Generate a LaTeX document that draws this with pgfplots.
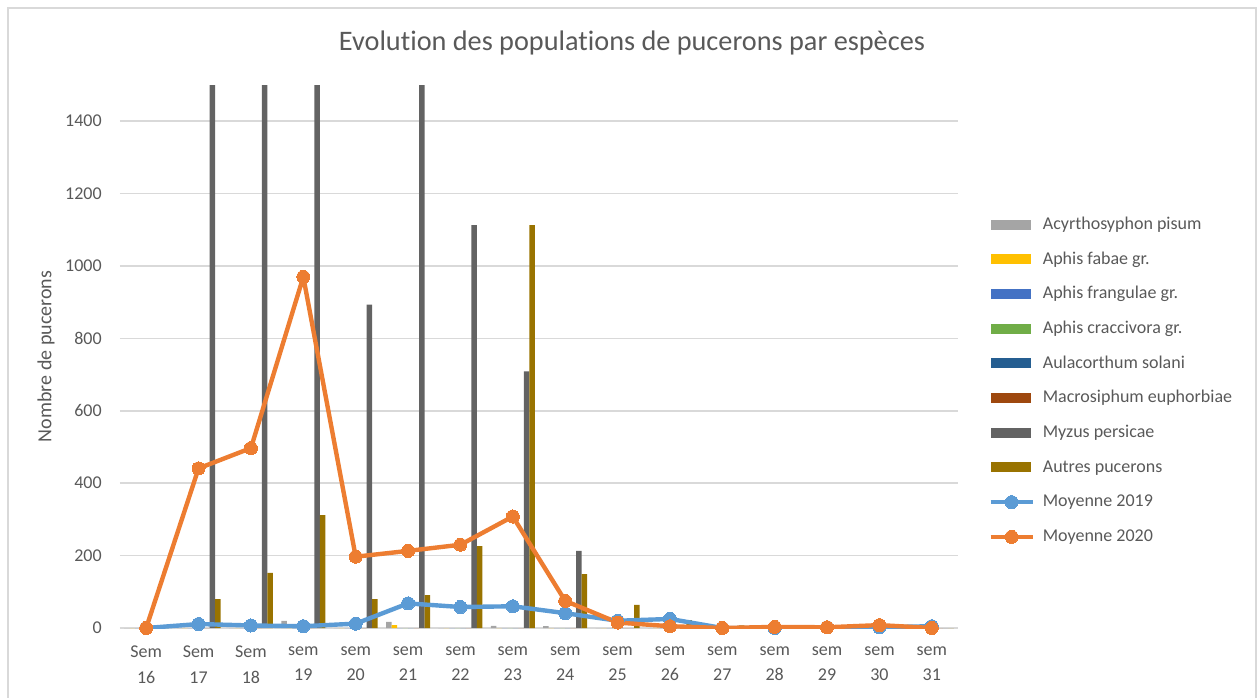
\documentclass[border=0pt]{standalone}
\usepackage{pgfplots}
\pgfplotsset{compat=1.18}
\usepackage{fontspec}
\setmainfont[Ligatures={NoCommon}]{Carlito}
\definecolor{txt}{HTML}{595959}
\definecolor{gridc}{HTML}{D9D9D9}
\definecolor{acy}{HTML}{A5A5A5}
\definecolor{fab}{HTML}{FFC000}
\definecolor{fra}{HTML}{4472C4}
\definecolor{cra}{HTML}{70AD47}
\definecolor{aul}{HTML}{255E91}
\definecolor{mac}{HTML}{9E480E}
\definecolor{myz}{HTML}{636363}
\definecolor{aut}{HTML}{997300}
\definecolor{mA}{HTML}{5B9BD5}
\definecolor{mB}{HTML}{ED7D31}
\pgfplotsset{
  mybar/.style={ybar, bar width=4.125pt, bar shift=#1, draw=none,
    legend image code/.code={\fill[##1, draw=none] (0pt,-3.75pt) rectangle (30pt,3.75pt);}},
  myline/.style={color=#1, line width=3.3pt, line join=round, mark=*, mark size=4.9pt,
    mark options={fill=#1, draw=#1, line width=0pt},
    legend image code/.code={\draw[mark repeat=2, mark phase=2, ##1] plot coordinates {(0pt,0pt) (15.75pt,0pt) (31.5pt,0pt)};}},
}
\begin{document}
\begin{tikzpicture}
\path[use as bounding box] (0,0) rectangle (943.5pt,-522.75pt);
\draw[gridc, line width=0.9pt] (6pt,-530pt) -- (6pt,-6pt) -- (942pt,-6pt) -- (942pt,-530pt);
\node[anchor=base, font=\fontsize{21.2}{25}\selectfont, text=txt] at (474pt,-37.5pt) {Evolution des populations de pucerons par espèces};
\begin{axis}[
  at={(90pt,-471pt)}, anchor=south west,
  scale only axis, width=628.5pt, height=407.25pt,
  xmin=-0.5, xmax=15.5, ymin=0, ymax=1500,
  axis line style={draw=none},
  major tick length=0pt,
  ymajorgrids, grid style={draw=gridc, line width=1.1pt},
  ytick={0,200,...,1400},
  xtick={0,...,15},
  xticklabels={{Sem\\16},{Sem\\17},{Sem\\18},{sem\\19},{sem\\20},{sem\\21},{sem\\22},{sem\\23},{sem\\24},{sem\\25},{sem\\26},{sem\\27},{sem\\28},{sem\\29},{sem\\30},{sem\\31}},
  xticklabel style={align=center, font=\fontsize{13.5}{19}\selectfont, text=txt, inner sep=0pt, yshift=-13.5pt},
  yticklabel style={font=\fontsize{13.5}{16}\selectfont, text=txt, inner sep=0pt, xshift=-13.5pt},
  /pgf/number format/1000 sep={},
  /pgf/number format/assume math mode=true,
  ylabel={Nombre de pucerons},
  every axis y label/.style={at={(axis description cs:-0.0883,0.5)}, rotate=90, anchor=center, font=\fontsize{15}{18}\selectfont, text=txt},
  legend cell align=left,
  legend style={at={(rel axis cs:1.036,0.759)}, anchor=north west, draw=none, fill=none, inner sep=0pt,
    font=\fontsize{13.5}{16}\selectfont, text=txt, row sep=13pt, column sep=6pt,
    nodes={inner sep=0pt, text height=10pt, text depth=3pt}},
]
\addplot[mybar=-14.4375pt, fill=acy] coordinates {(0,0) (1,0) (2,0) (3,20) (4,0) (5,17) (6,0) (7,6) (8,5) (9,0) (10,0) (11,0) (12,0) (13,0) (14,0) (15,0)};
\addlegendentry{Acyrthosyphon pisum}
\addplot[mybar=-10.3125pt, fill=fab] coordinates {(0,0) (1,0) (2,0) (3,0) (4,0) (5,8) (6,0) (7,0) (8,0) (9,0) (10,0) (11,0) (12,0) (13,0) (14,0) (15,0)};
\addlegendentry{Aphis fabae gr.}
\addplot[mybar=-6.1875pt, fill=fra] coordinates {(0,0) (1,0) (2,0) (3,0) (4,0) (5,0) (6,0) (7,0) (8,0) (9,0) (10,0) (11,0) (12,0) (13,0) (14,0) (15,0)};
\addlegendentry{Aphis frangulae gr.}
\addplot[mybar=-2.0625pt, fill=cra] coordinates {(0,0) (1,0) (2,0) (3,0) (4,0) (5,0) (6,0) (7,0) (8,0) (9,0) (10,0) (11,0) (12,0) (13,0) (14,0) (15,0)};
\addlegendentry{Aphis craccivora gr.}
\addplot[mybar=2.0625pt, fill=aul] coordinates {(0,0) (1,0) (2,0) (3,0) (4,0) (5,0) (6,0) (7,0) (8,0) (9,0) (10,0) (11,0) (12,0) (13,0) (14,0) (15,0)};
\addlegendentry{Aulacorthum solani}
\addplot[mybar=6.1875pt, fill=mac] coordinates {(0,0) (1,0) (2,0) (3,0) (4,0) (5,0) (6,0) (7,0) (8,0) (9,0) (10,0) (11,0) (12,0) (13,0) (14,0) (15,0)};
\addlegendentry{Macrosiphum euphorbiae}
\addplot[mybar=10.3125pt, fill=myz] coordinates {(0,0) (1,2000) (2,2000) (3,2000) (4,893) (5,2000) (6,1113) (7,709) (8,213) (9,0) (10,0) (11,0) (12,0) (13,0) (14,0) (15,0)};
\addlegendentry{Myzus persicae}
\addplot[mybar=14.4375pt, fill=aut] coordinates {(0,0) (1,80) (2,152) (3,312) (4,80) (5,91) (6,226) (7,1113) (8,149) (9,64) (10,22) (11,7) (12,0) (13,0) (14,0) (15,0)};
\addlegendentry{Autres pucerons}
\addplot[myline=mA] coordinates {(0,0) (1,11) (2,7) (3,5) (4,12) (5,68) (6,58) (7,60) (8,41) (9,20) (10,25) (11,0) (12,0) (13,2) (14,2) (15,5)};
\addlegendentry{Moyenne 2019}
\addplot[myline=mB] coordinates {(0,0) (1,441) (2,497) (3,970) (4,197) (5,213) (6,230) (7,308) (8,75) (9,15) (10,5) (11,0) (12,3) (13,2) (14,8) (15,0)};
\addlegendentry{Moyenne 2020}
\end{axis}
\end{tikzpicture}
\end{document}
